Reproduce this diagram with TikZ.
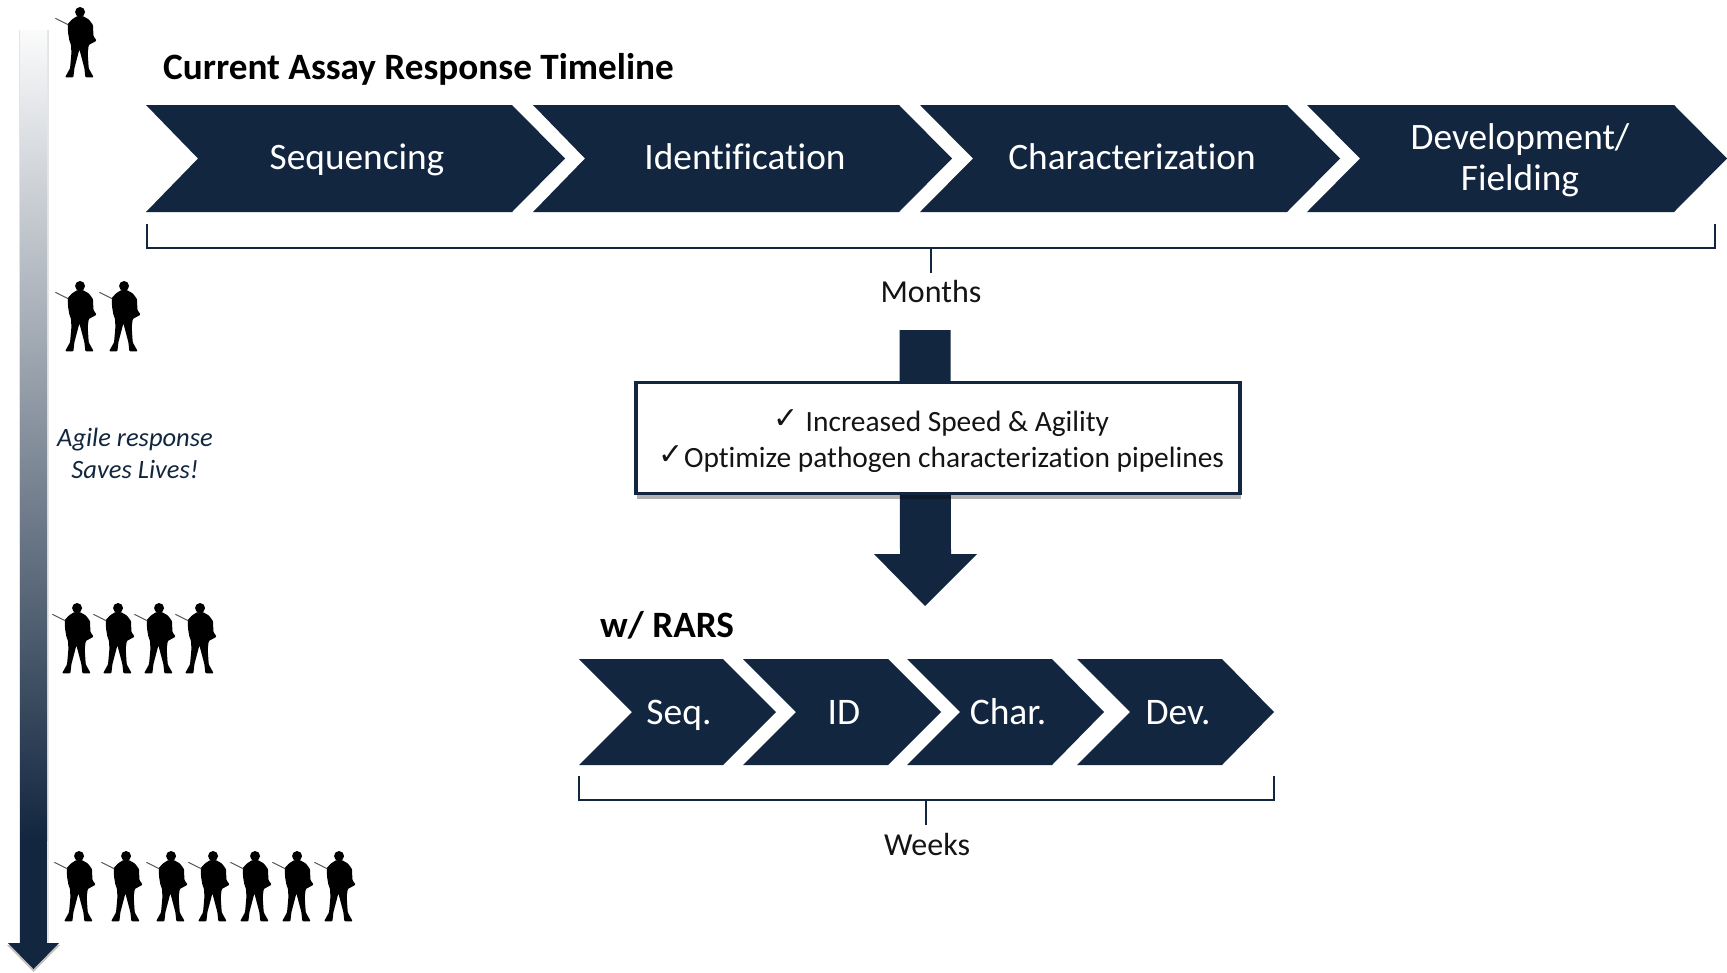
\documentclass[tikz,border=0pt]{standalone}
\usepackage{fontspec}
\setmainfont{Carlito}[Ligatures=NoCommon]
\newfontfamily\symfont{DejaVu Sans}
\usetikzlibrary{shadows}
\definecolor{navy}{HTML}{12263F}
\definecolor{ink}{HTML}{141414}
\newcommand{\fsz}[1]{\fontsize{#1pt}{#1pt}\selectfont}
\newcommand{\chev}[6]{% left notch shoulder tip top bottom
  \pgfmathsetmacro{\midy}{(#5+#6)/2}
  \fill[navy] (#1,#5) -- (#3,#5) -- (#4,\midy) -- (#3,#6) -- (#1,#6) -- (#2,\midy) -- cycle;
}
\tikzset{
  chevtext/.style={text=white,align=center,font=\fsz{37.3},inner sep=0pt,anchor=base},
  chevlines/.style={text=white,align=center,font=\fsz{37.3},inner sep=0pt},
  chevsmall/.style={text=white,align=center,font=\fsz{37.5},inner sep=0pt,anchor=base},
  plain/.style={text=ink,inner sep=0pt,font=\fsz{32}},
  heading/.style={text=black,inner sep=0pt,anchor=west,font=\fsz{37.2}\bfseries},
  brace/.style={navy,line width=2.6pt},
  boxstyle/.style={draw=navy,line width=3.5pt,fill=white,minimum width=604pt,minimum height=111pt,align=center,
     text=ink,font=\fsz{29.4},inner sep=0pt,drop shadow={shadow xshift=1pt,shadow yshift=-5pt,opacity=0.3,fill=black}},
  soldier/.pic={
    \begin{scope}[x=0.3333pt,y=-0.3333pt,xshift=-80.6pt,yshift=7pt]
      \fill[black] (242,36) circle[radius=15];
      \fill[black,rounded corners=1pt] (234,48) -- (218,58) -- (205,72) -- (206,98) -- (210,122) -- (215,135) -- (216,160) -- (212,205)
        -- (197,232) -- (222,232) -- (225,205) -- (240,148) -- (255,205) -- (258,232) -- (283,232)
        -- (268,205) -- (265,160) -- (268,135) -- (292,122) -- (282,108) -- (281,75) -- (268,58) -- (250,48) -- cycle;
      \draw[black!65,line width=1pt] (168,55) -- (206,74);
    \end{scope}
  }
}
\begin{document}
\begin{tikzpicture}[x=1pt,y=-1pt]
\useasboundingbox (0,0) rectangle (1727,972);

% vertical arrow
\fill[black!20,opacity=.5] (18.5,30) rectangle (48.5,945);
\shade[top color=navy!2,bottom color=navy] (20,30) rectangle (47,840);
\fill[navy] (20,840) rectangle (47,945);
\fill[black!40,opacity=.6] (7,945) -- (60,945) -- (33.5,972) -- cycle;
\fill[navy] (8,943) -- (59,943) -- (33.5,969) -- cycle;

% soldiers
\foreach \x in {80} \pic at (\x,7) {soldier};
\foreach \x in {80,124} \pic at (\x,281) {soldier};
\foreach \x in {77,118,159,200} \pic at (\x,603) {soldier};
\foreach \x in {79,126,171,213,255,297,339} \pic at (\x,851) {soldier};

\node[text=navy,inner sep=0pt,align=center,font=\fsz{26.5}\itshape] (agile) at (135,453) {Agile response\\[5.5pt]Saves Lives!};

% top timeline
\node[heading] (title) at (163,69) {Current Assay Response Timeline};
\chev{146}{198}{512}{565}{105}{212}
\chev{533}{585}{899}{952}{105}{212}
\chev{920}{973}{1287}{1340}{105}{212}
\chev{1307}{1360}{1674}{1727}{105}{212}
\node[chevtext] (sequencing) at (357,169) {Sequencing};
\node[chevtext] (identification) at (745,169) {Identification};
\node[chevtext] (characterization) at (1132,169) {Characterization};
\node[chevlines] (development) at (1520,160) {Development/\\[4pt]Fielding};

\coordinate (tl) at (147,224);
\coordinate (tr) at (1715,224);
\coordinate (tm) at (931,248);
\coordinate (ts) at (931,273);
\draw[brace] (tl) |- (tm) -| (tr);
\draw[brace] (tm) -- (ts);
\node[plain] (months) at (931,292) {Months};

% central arrow and box
\coordinate (arrowtop) at (925,330);
\coordinate (arrowtip) at (925,606);
\fill[navy] (arrowtop) ++(-25.5,0) -- ++(51,0) -- (951,554) -- (977,554) -- (arrowtip) -- (874,554) -- (900,554) -- cycle;
\node[boxstyle] (benefits) at (938,438) {\hspace*{7pt}\rule{0pt}{28pt}{\symfont\fsz{30}\raisebox{3pt}{✓}} Increased Speed \& Agility\\[7pt]\hspace*{7pt}{\symfont\fsz{30}\raisebox{3pt}{✓}}Optimize pathogen characterization pipelines};

% bottom timeline
\node[heading] (rars) at (600,625) {w/ RARS};
\chev{579}{632}{723}{776}{659}{765}
\chev{743}{796}{888}{941}{659}{765}
\chev{907}{960}{1052}{1104}{659}{765}
\chev{1077}{1130}{1222}{1274}{659}{765}
\node[chevsmall] (seq) at (679,724) {Seq.};
\node[chevsmall] (id) at (844,724) {ID};
\node[chevsmall] (char) at (1008,724) {Char.};
\node[chevsmall] (dev) at (1178,724) {Dev.};

\coordinate (bl) at (579,776);
\coordinate (br) at (1274,776);
\coordinate (bm) at (926,800);
\coordinate (bs) at (926,825);
\draw[brace] (bl) |- (bm) -| (br);
\draw[brace] (bm) -- (bs);
\node[plain] (weeks) at (927,844) {Weeks};
\end{tikzpicture}
\end{document}
